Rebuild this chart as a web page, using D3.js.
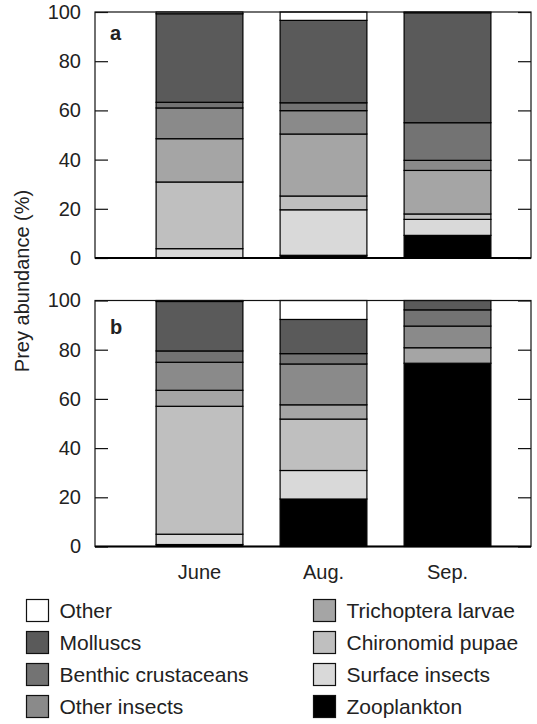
<!DOCTYPE html>
<html>
<head>
<meta charset="utf-8">
<script src="https://cdn.jsdelivr.net/npm/d3@7"></script>
<style>
    body { margin: 0; background: #fff; }
    text { font-family: 'Liberation Sans', Arial, sans-serif; fill: #222; }
</style>
</head>
<body>
<div id="chart"></div>
<script>
const months = ['June', 'Aug.', 'Sep.'];

// bottom to top of each stack
const categories = [
    'Zooplankton',
    'Surface insects',
    'Chironomid pupae',
    'Trichoptera larvae',
    'Other insects',
    'Benthic crustaceans',
    'Molluscs',
    'Other'
];
const fills = ['#000000', '#d9d9d9', '#bfbfbf', '#a5a5a5', '#8a8a8a', '#737373', '#5a5a5a', '#ffffff'];

// prey abundance (%), one row per month, columns follow categories
const panelA = [
    [0, 3.8, 27.1, 17.6, 12.5, 2.3, 36.0, 0.7],
    [1.1, 18.5, 5.6, 25.2, 9.5, 3.2, 33.5, 3.4],
    [9.2, 6.5, 2.2, 17.7, 4.1, 15.3, 44.7, 0.3]
];
const panelB = [
    [0.8, 4.2, 52.0, 6.5, 11.4, 4.6, 20.1, 0.4],
    [19.3, 11.6, 20.9, 5.8, 16.6, 4.2, 13.9, 7.7],
    [74.5, 0, 0, 6.3, 8.8, 6.6, 3.8, 0]
];
const yTicks = [0, 20, 40, 60, 80, 100];

const legendLeft = ['Other', 'Molluscs', 'Benthic crustaceans', 'Other insects'];
const legendRight = ['Trichoptera larvae', 'Chironomid pupae', 'Surface insects', 'Zooplankton'];

const width = 537;
const height = 724;
const frameLeft = 95;
const frameRight = 531;
const panelHeight = 246;
const tickLen = 13;

const svg = d3
    .select('#chart')
    .append('svg')
    .attr('width', width)
    .attr('height', height);

const x = d3
    .scaleBand()
    .domain(months)
    .range([137.5, 509.5])
    .paddingInner(0.3)
    .paddingOuter(0.15);

const color = d3.scaleOrdinal().domain(categories).range(fills);

const stack = d3.stack().keys(d3.range(categories.length));

function drawPanel(values, top, label, showMonths) {
    const y = d3
        .scaleLinear()
        .domain([0, 100])
        .range([top + panelHeight, top]);

    const g = svg.append('g');

    const series = stack(values);

    g.selectAll('g.layer')
        .data(series)
        .join('g')
        .attr('class', 'layer')
        .attr('fill', (s) => color(categories[s.key]))
        .selectAll('rect')
        .data((s) => s.map((d, i) => ({ d: d, month: months[i] })))
        .join('rect')
        .filter((p) => p.d[1] - p.d[0] > 0)
        .attr('x', (p) => x(p.month))
        .attr('width', x.bandwidth())
        .attr('y', (p) => y(p.d[1]))
        .attr('height', (p) => y(p.d[0]) - y(p.d[1]))
        .attr('stroke', '#000')
        .attr('stroke-width', 1.2);

    const left = g
        .append('g')
        .attr('transform', 'translate(' + frameLeft + ',0)')
        .call(d3.axisLeft(y).tickValues(yTicks).tickSize(-tickLen).tickPadding(14));
    left.select('.domain').remove();
    left.selectAll('line').attr('stroke', '#111').attr('stroke-width', 1.2);
    left.selectAll('text').attr('font-size', 20).attr('fill', '#222');

    const right = g
        .append('g')
        .attr('transform', 'translate(' + frameRight + ',0)')
        .call(d3.axisRight(y).tickValues(yTicks).tickSize(-tickLen).tickFormat(''));
    right.select('.domain').remove();
    right.selectAll('line').attr('stroke', '#111').attr('stroke-width', 1.2);

    g.append('rect')
        .attr('x', frameLeft)
        .attr('y', top)
        .attr('width', frameRight - frameLeft)
        .attr('height', panelHeight)
        .attr('fill', 'none')
        .attr('stroke', '#111')
        .attr('stroke-width', 1.2);

    g.append('line')
        .attr('x1', frameLeft)
        .attr('x2', frameRight)
        .attr('y1', y(0))
        .attr('y2', y(0))
        .attr('stroke', '#000')
        .attr('stroke-width', 2.2);

    g.append('text')
        .attr('x', 110)
        .attr('y', top + (label === 'a' ? 28 : 33))
        .attr('font-size', 20)
        .attr('font-weight', 'bold')
        .text(label);

    if (showMonths) {
        const bottom = g
            .append('g')
            .attr('transform', 'translate(0,' + y(0) + ')')
            .call(d3.axisBottom(x).tickSize(0).tickPadding(18));
        bottom.select('.domain').remove();
        bottom.selectAll('text').attr('font-size', 20).attr('fill', '#222');
    }
}

drawPanel(panelA, 12, 'a', false);
drawPanel(panelB, 300.5, 'b', true);

svg.append('text')
    .attr('transform', 'translate(29,281) rotate(-90)')
    .attr('text-anchor', 'middle')
    .attr('font-size', 20)
    .text('Prey abundance (%)');

// legend
const legendRow = d3.scalePoint().domain(d3.range(4)).range([610.5, 706.5]);

function drawLegend(names, left) {
    const item = svg
        .append('g')
        .selectAll('g')
        .data(names)
        .join('g')
        .attr('transform', (d, i) => 'translate(' + left + ',' + legendRow(i) + ')');

    item.append('rect')
        .attr('x', 0)
        .attr('y', -11)
        .attr('width', 22)
        .attr('height', 22)
        .attr('fill', (d) => color(d))
        .attr('stroke', '#111')
        .attr('stroke-width', 1.2);

    item.append('text')
        .attr('x', 33)
        .attr('y', 7.5)
        .attr('font-size', 21)
        .text((d) => d);
}

drawLegend(legendLeft, 26.5);
drawLegend(legendRight, 313.5);
</script>
</body>
</html>
